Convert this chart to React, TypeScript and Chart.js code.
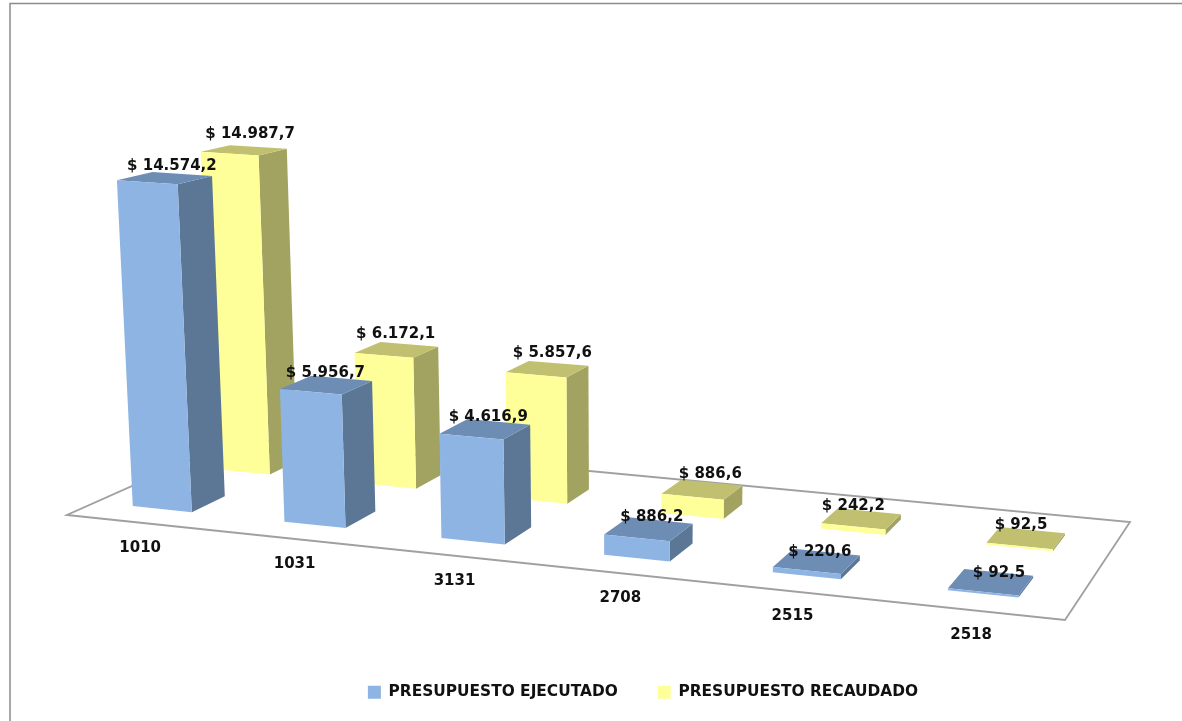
import React, { useEffect, useRef } from "react";
import { Chart, registerables } from "chart.js";

Chart.register(...registerables);

const categories = ["1010", "1031", "3131", "2708", "2515", "2518"];
const presupuestoEjecutado = [14574.2, 5956.7, 4616.9, 886.2, 220.6, 92.5];
const presupuestoRecaudado = [14987.7, 6172.1, 5857.6, 886.6, 242.2, 92.5];
const seriesNames = ["PRESUPUESTO EJECUTADO", "PRESUPUESTO RECAUDADO"];

const FONT = "'DejaVu Sans', sans-serif";
const fmt = (n: number) => {
  const [i, d] = n.toFixed(1).split(".");
  return "$ " + i.replace(/\B(?=(\d{3})+$)/g, ".") + "," + d;
};

// Camera: floor corners on screen
const FL = [67, 515], FR = [1065, 620], BR = [1130, 522], BL = [240, 438];
const VP = [630, 10700];
const A = -0.0345;
const AXIS_MAX = 16000;
const BAR_W = 0.066;
const DEPTHS = [[0.15, 0.34], [0.615, 0.79]];
const LABEL_DY = [-9, -13];
const LABEL_DX = [[4, -4, 0, 0, 0, 5], [3, -4, 2, 5, -11, -8]];
const FACES = [
  { front: "#8DB4E2", side: "#5C7696", top: "#6E8DB4" },
  { front: "#FFFF99", side: "#A3A361", top: "#C0C070" },
];

function makeProjector() {
  const dx1 = FR[0] - BR[0], dx2 = BL[0] - BR[0], sx = FL[0] - FR[0] + BR[0] - BL[0];
  const dy1 = FR[1] - BR[1], dy2 = BL[1] - BR[1], sy = FL[1] - FR[1] + BR[1] - BL[1];
  const det = dx1 * dy2 - dx2 * dy1;
  const g = (sx * dy2 - dx2 * sy) / det;
  const h = (dx1 * sy - sx * dy1) / det;
  const a = FR[0] - FL[0] + g * FR[0], b = BL[0] - FL[0] + h * BL[0], c = FL[0];
  const d = FR[1] - FL[1] + g * FR[1], e = BL[1] - FL[1] + h * BL[1], f = FL[1];
  return (u: number, v: number, t: number) => {
    const w = g * u + h * v + 1 + A * t;
    return [(a * u + b * v + c + A * t * VP[0]) / w, (d * u + e * v + f + A * t * VP[1]) / w];
  };
}
const project = makeProjector();

function poly(ctx: CanvasRenderingContext2D, pts: number[][], fill: string) {
  ctx.beginPath();
  pts.forEach((p, i) => (i ? ctx.lineTo(p[0], p[1]) : ctx.moveTo(p[0], p[1])));
  ctx.closePath();
  ctx.fillStyle = fill;
  ctx.fill();
}

const uOf = (chart: any, i: number) =>
  (chart.scales.x.getPixelForValue(i) - chart.chartArea.left) / chart.chartArea.width;
const barU = (chart: any, i: number) => uOf(chart, i) * 1.007 - 0.009;
const tOf = (chart: any, val: number) =>
  (chart.chartArea.bottom - chart.scales.y.getPixelForValue(val)) / chart.chartArea.height;

const scene3d = {
  id: "scene3d",
  beforeDraw(chart: any) {
    const ctx = chart.ctx;
    ctx.save();
    ctx.fillStyle = "#fff";
    ctx.fillRect(0, 0, chart.width, chart.height);
    ctx.strokeStyle = "#8C8C8C";
    ctx.lineWidth = 1.5;
    ctx.beginPath();
    ctx.moveTo(10, chart.height);
    ctx.lineTo(10, 3.5);
    ctx.lineTo(chart.width, 3.5);
    ctx.stroke();
    ctx.restore();
  },
  beforeDatasetsDraw(chart: any) {
    const ctx = chart.ctx;
    ctx.save();
    ctx.strokeStyle = "#A0A0A0";
    ctx.lineWidth = 1.8;
    ctx.beginPath();
    ctx.moveTo(FL[0], FL[1]);
    ctx.lineTo(FR[0], FR[1]);
    ctx.lineTo(BR[0], BR[1]);
    ctx.lineTo(BL[0], BL[1]);
    ctx.closePath();
    ctx.stroke();
    ctx.restore();
  },
  beforeDatasetDraw(chart: any, args: any) {
    const ctx = chart.ctx;
    const s = args.index;
    const col = FACES[s];
    const [v0, v1] = DEPTHS[s];
    const data = chart.data.datasets[s].data as number[];
    data.forEach((val, i) => {
      const u = barU(chart, i);
      const t = tOf(chart, val);
      const l = u - BAR_W / 2, r = u + BAR_W / 2;
      poly(ctx, [project(r, v0, 0), project(r, v1, 0), project(r, v1, t), project(r, v0, t)], col.side);
      poly(ctx, [project(l, v0, t), project(r, v0, t), project(r, v1, t), project(l, v1, t)], col.top);
      poly(ctx, [project(l, v0, 0), project(r, v0, 0), project(r, v0, t), project(l, v0, t)], col.front);
    });
    return false;
  },
  afterDatasetsDraw(chart: any) {
    const ctx = chart.ctx;
    ctx.save();
    ctx.font = `bold 15px ${FONT}`;
    ctx.fillStyle = "#111";
    ctx.textAlign = "center";
    ctx.textBaseline = "middle";
    chart.data.datasets.forEach((ds: any, s: number) => {
      const [v0, v1] = DEPTHS[s];
      (ds.data as number[]).forEach((val, i) => {
        const p = project(barU(chart, i), (v0 + v1) / 2, tOf(chart, val));
        const lift = val > 500 ? -3 : 0;
        ctx.fillText(fmt(val), p[0] + 3 + LABEL_DX[s][i], p[1] + LABEL_DY[s] + lift);
      });
    });
    (chart.data.labels as string[]).forEach((lab, i) => {
      const p = project(uOf(chart, i), 0, 0);
      ctx.fillText(lab, p[0] - 2, p[1] + 25);
    });
    ctx.restore();
  },
};

export default function App() {
  const ref = useRef<HTMLCanvasElement>(null);
  useEffect(() => {
    const chart = new Chart(ref.current!, {
      type: "bar",
      data: {
        labels: categories,
        datasets: [
          { label: seriesNames[0], data: presupuestoEjecutado, backgroundColor: FACES[0].front, borderWidth: 0 },
          { label: seriesNames[1], data: presupuestoRecaudado, backgroundColor: FACES[1].front, borderWidth: 0 },
        ],
      },
      options: {
        responsive: false,
        animation: false,
        layout: { padding: { left: 104, right: 0, top: 0, bottom: 11 } },
        scales: {
          x: { display: false },
          y: { display: false, min: 0, max: AXIS_MAX },
        },
        plugins: {
          tooltip: { enabled: false },
          legend: {
            position: "bottom",
            labels: {
              boxWidth: 13,
              boxHeight: 13,
              padding: 40,
              color: "#111",
              font: { family: FONT, size: 15.4, weight: "bold" },
            },
          },
        },
      },
      plugins: [scene3d],
    } as any);
    return () => chart.destroy();
  }, []);
  return (
    <div style={{ position: "absolute", left: 0, top: 0, width: 1182, height: 721 }}>
      <canvas ref={ref} width={1182} height={721} style={{ display: "block" }} />
    </div>
  );
}
